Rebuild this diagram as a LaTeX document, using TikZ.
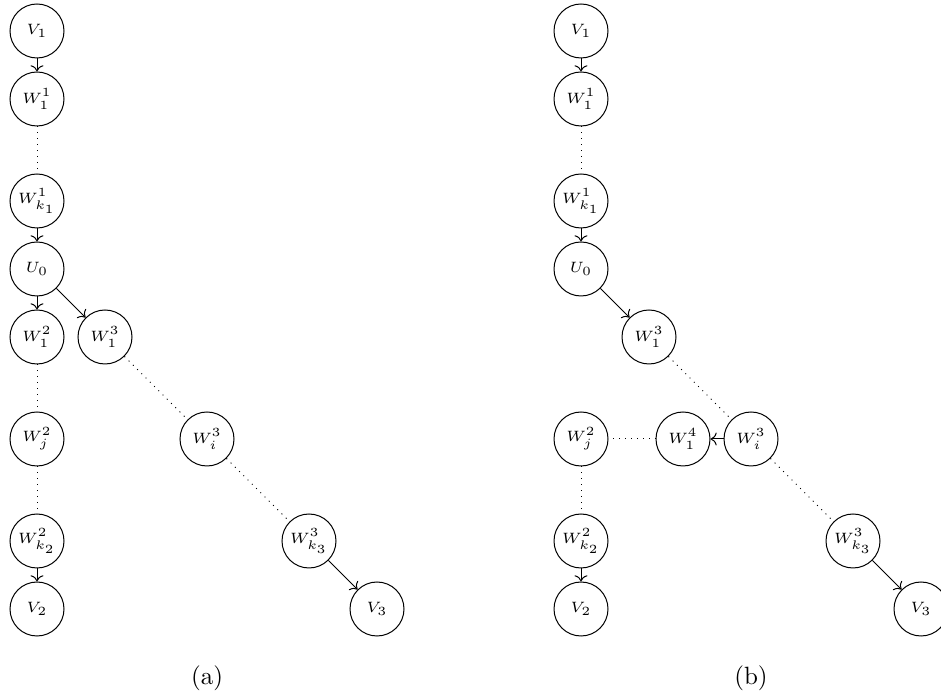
\documentclass[tikz,border=0pt]{standalone}
\usetikzlibrary{arrows.meta}
\begin{document}
\begin{tikzpicture}[x=0.4pt,y=-0.4pt,
  vtx/.style={draw,circle,minimum size=21.6pt,inner sep=0pt,font=\fontsize{6}{7}\selectfont,line width=0.4pt},
  arr/.style={->,line width=0.4pt},
  dot/.style={dotted,line width=0.4pt}]
\useasboundingbox (0,0) rectangle (941,698);
% (a)
\node[vtx] (aV1) at (37,31) {$V_1$};
\node[vtx] (aW11) at (37,99) {$W_1^1$};
\node[vtx] (aWk1) at (37,201) {$W_{k_1}^1$};
\node[vtx] (aU0) at (37,269) {$U_0$};
\node[vtx] (aW12) at (37,337) {$W_1^2$};
\node[vtx] (aW13) at (105,337) {$W_1^3$};
\node[vtx] (aWj2) at (37,439) {$W_j^2$};
\node[vtx] (aWi3) at (207,439) {$W_i^3$};
\node[vtx] (aWk2) at (37,541) {$W_{k_2}^2$};
\node[vtx] (aWk3) at (309,541) {$W_{k_3}^3$};
\node[vtx] (aV2) at (37,609) {$V_2$};
\node[vtx] (aV3) at (377,609) {$V_3$};
\node (capa) at (207,678) {(a)};
\draw[arr] (aV1) -- (aW11);
\draw[dot] (aW11) -- (aWk1);
\draw[arr] (aWk1) -- (aU0);
\draw[arr] (aU0) -- (aW12);
\draw[arr] (aU0) -- (aW13);
\draw[dot] (aW12) -- (aWj2);
\draw[dot] (aWj2) -- (aWk2);
\draw[arr] (aWk2) -- (aV2);
\draw[dot] (aW13) -- (aWi3);
\draw[dot] (aWi3) -- (aWk3);
\draw[arr] (aWk3) -- (aV3);
% (b)
\node[vtx] (bV1) at (581,31) {$V_1$};
\node[vtx] (bW11) at (581,99) {$W_1^1$};
\node[vtx] (bWk1) at (581,201) {$W_{k_1}^1$};
\node[vtx] (bU0) at (581,269) {$U_0$};
\node[vtx] (bW13) at (649,337) {$W_1^3$};
\node[vtx] (bWj2) at (581,439) {$W_j^2$};
\node[vtx] (bW14) at (683,439) {$W_1^4$};
\node[vtx] (bWi3) at (751,439) {$W_i^3$};
\node[vtx] (bWk2) at (581,541) {$W_{k_2}^2$};
\node[vtx] (bWk3) at (853,541) {$W_{k_3}^3$};
\node[vtx] (bV2) at (581,609) {$V_2$};
\node[vtx] (bV3) at (921,609) {$V_3$};
\node (capb) at (751,678) {(b)};
\draw[arr] (bV1) -- (bW11);
\draw[dot] (bW11) -- (bWk1);
\draw[arr] (bWk1) -- (bU0);
\draw[arr] (bU0) -- (bW13);
\draw[dot] (bW13) -- (bWi3);
\draw[arr] (bWi3) -- (bW14);
\draw[dot] (bW14) -- (bWj2);
\draw[dot] (bWj2) -- (bWk2);
\draw[arr] (bWk2) -- (bV2);
\draw[dot] (bWi3) -- (bWk3);
\draw[arr] (bWk3) -- (bV3);
\end{tikzpicture}
\end{document}
